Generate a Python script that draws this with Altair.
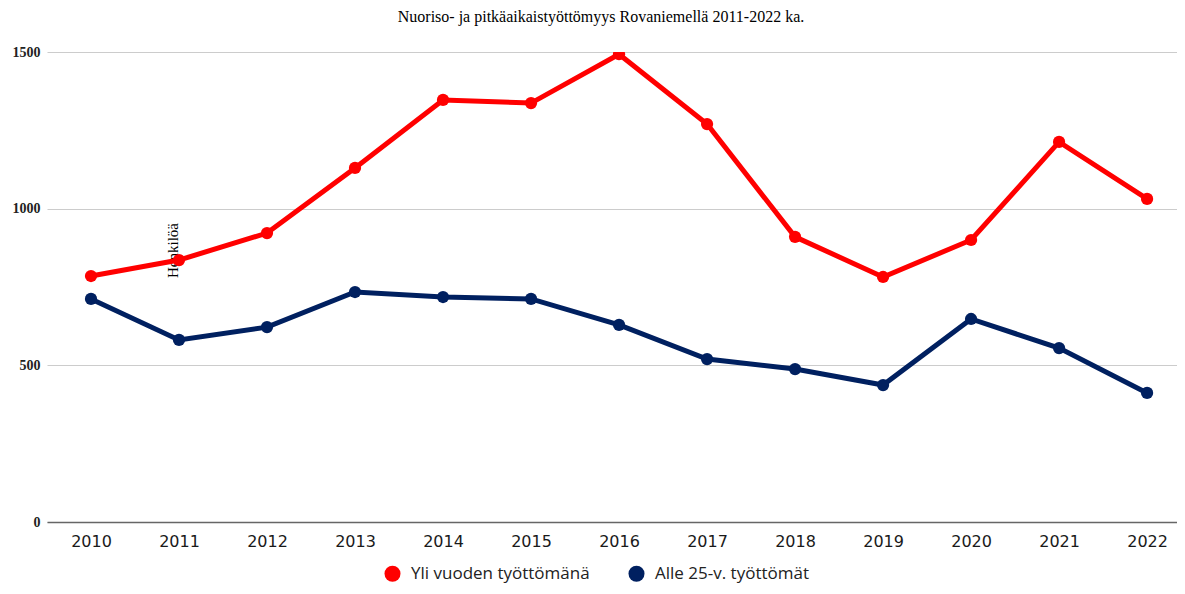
import altair as alt
import pandas as pd

years = list(range(2010, 2023))
series_names = ["Yli vuoden työttömänä", "Alle 25-v. työttömät"]
yli_vuoden = [785, 836, 922, 1130, 1347, 1337, 1493, 1270, 910, 782, 900, 1213, 1031]
alle_25 = [712, 581, 622, 734, 718, 712, 629, 520, 488, 437, 648, 555, 412]
colors = ["#ff0000", "#002060"]

rows = []
for i, y in enumerate(years):
    rows.append({"vuosi": y, "sarja": series_names[0], "arvo": yli_vuoden[i], "vari": colors[0]})
    rows.append({"vuosi": y, "sarja": series_names[1], "arvo": alle_25[i], "vari": colors[1]})
df = pd.DataFrame(rows)

x_enc = alt.X("vuosi:Q", scale=alt.Scale(domain=[2009.5, 2022.34], nice=False, zero=False),
              axis=alt.Axis(title=None, values=years, format="d", labelAngle=0,
                            ticks=False, domain=True, labelFlush=False,
                            domainColor="#666666", domainWidth=1.5,
                            labelFont="DejaVu Sans", labelFontSize=16,
                            labelColor="#1a1a1a", labelPadding=11, grid=False))
y_enc = alt.Y("arvo:Q", scale=alt.Scale(domain=[0, 1500], nice=False),
              axis=alt.Axis(values=[0, 500, 1000, 1500], format="d", title="Henkilöä",
                            titleFont="Liberation Serif", titleFontSize=15,
                            titleFontWeight="normal", titleColor="#000000",
                            titleAngle=270, titleX=125, titleY=198,
                            titleAlign="center", titleBaseline="middle",
                            labelFont="Liberation Serif", labelFontSize=14,
                            labelFontWeight="bold", labelColor="#222222",
                            labelPadding=7, ticks=False, domain=False,
                            gridColor="#cccccc", gridWidth=1.2))

base = alt.Chart(df)
lines = base.mark_line(strokeWidth=5, clip=True).encode(
    x=x_enc, y=y_enc,
    stroke=alt.Stroke("vari:N", scale=None),
    detail="sarja:N",
)
points = base.mark_circle(size=150, opacity=1, clip=True).encode(
    x=x_enc, y=y_enc,
    color=alt.Color("sarja:N", scale=alt.Scale(domain=series_names, range=colors),
                    legend=alt.Legend(title=None, orient="none", direction="horizontal",
                                      legendX=337, legendY=513, padding=0,
                                      symbolType="circle", symbolSize=256,
                                      symbolOpacity=1, symbolStrokeWidth=0,
                                      labelFont="Open Sans", labelLimit=400,
                                      labelFontSize=17, labelColor="#222222",
                                      labelOffset=10, columnPadding=38)),
)

chart = alt.layer(lines, points).properties(
    width=1130, height=470,
    title=alt.TitleParams("Nuoriso- ja pitkäaikaistyöttömyys Rovaniemellä 2011-2022 ka.",
                          font="Liberation Serif", fontSize=16, fontWeight="normal",
                          color="#000000", anchor="middle", dx=-11, offset=20),
    autosize=alt.AutoSizeParams(type="none"),
    padding={"left": 39, "top": 44, "right": 0, "bottom": 64},
).configure_view(stroke=None)

chart.save("out.html", embed_options={"renderer": "svg", "actions": False})
